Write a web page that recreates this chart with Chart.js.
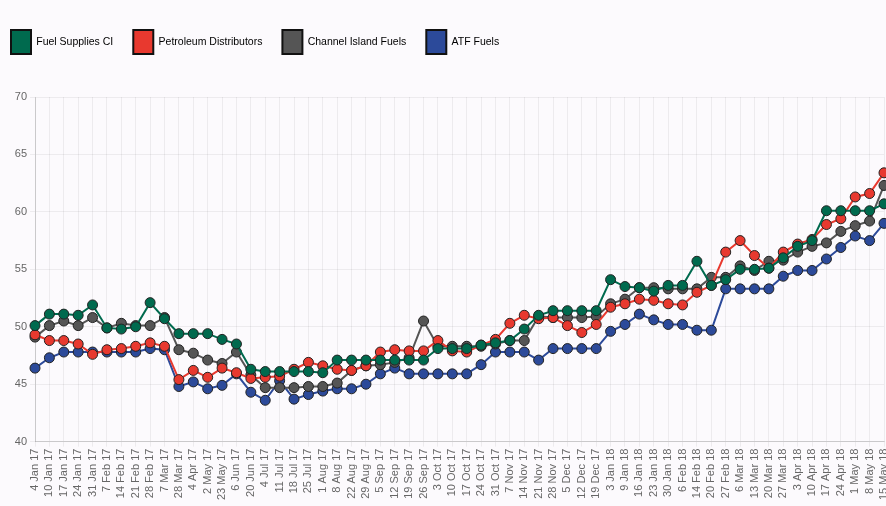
<!DOCTYPE html>
<html>
<head>
<meta charset="utf-8">
<script src="https://cdn.jsdelivr.net/npm/chart.js@4"></script>
<style>
  html, body { margin: 0; padding: 0; background: #fcfafd; overflow: hidden; }
  #wrap { width: 886px; height: 506px; }
</style>
</head>
<body>
<div id="wrap"><canvas id="chart" width="886" height="506"></canvas></div>
<script>
const labels = ['4 Jan 17', '10 Jan 17', '17 Jan 17', '24 Jan 17', '31 Jan 17', '7 Feb 17', '14 Feb 17', '21 Feb 17', '28 Feb 17', '7 Mar 17',
  '28 Mar 17', '4 Apr 17', '2 May 17', '23 May 17', '6 Jun 17', '20 Jun 17', '4 Jul 17', '11 Jul 17', '18 Jul 17', '25 Jul 17',
  '1 Aug 17', '8 Aug 17', '22 Aug 17', '29 Aug 17', '5 Sep 17', '12 Sep 17', '19 Sep 17', '26 Sep 17', '3 Oct 17', '10 Oct 17',
  '17 Oct 17', '24 Oct 17', '31 Oct 17', '7 Nov 17', '14 Nov 17', '21 Nov 17', '28 Nov 17', '5 Dec 17', '12 Dec 17', '19 Dec 17',
  '3 Jan 18', '9 Jan 18', '16 Jan 18', '23 Jan 18', '30 Jan 18', '6 Feb 18', '14 Feb 18', '20 Feb 18', '27 Feb 18', '6 Mar 18',
  '13 Mar 18', '20 Mar 18', '27 Mar 18', '3 Apr 18', '10 Apr 18', '17 Apr 18', '24 Apr 18', '1 May 18', '8 May 18', '15 May 18'];

const fuelSupplies = [50.1, 51.1, 51.1, 51.0, 51.9, 49.9, 49.8, 50.0, 52.1, 50.7, 49.4, 49.4, 49.4, 48.9, 48.5, 46.3, 46.1, 46.1, 46.1, 46.1,
  46.0, 47.1, 47.1, 47.1, 47.1, 47.1, 47.1, 47.1, 48.1, 48.1, 48.1, 48.4, 48.6, 48.8, 49.8, 51.0, 51.4, 51.4, 51.4, 51.4,
  54.1, 53.5, 53.4, 53.1, 53.6, 53.6, 55.7, 53.6, 54.1, 55.0, 55.0, 55.1, 56.0, 57.0, 57.5, 60.1, 60.1, 60.1, 60.1, 60.7];

const petroleum = [49.3, 48.8, 48.8, 48.5, 47.6, 48.0, 48.1, 48.3, 48.6, 48.3, 45.4, 46.2, 45.6, 46.4, 46.0, 45.5, 45.6, 45.7, 46.3, 46.9,
  46.6, 46.3, 46.2, 46.6, 47.8, 48.0, 47.9, 47.9, 48.8, 47.9, 47.8, 48.4, 48.9, 50.3, 51.0, 50.7, 50.8, 50.1, 49.5, 50.2,
  51.7, 52.0, 52.4, 52.3, 52.0, 51.9, 53.0, 53.6, 56.5, 57.5, 56.2, 55.1, 56.5, 57.2, 57.6, 58.9, 59.4, 61.3, 61.6, 63.4];

const channelIsland = [49.1, 50.1, 50.5, 50.1, 50.8, 49.9, 50.3, 50.1, 50.1, 50.8, 48.0, 47.7, 47.1, 46.8, 47.8, 45.8, 44.7, 44.7, 44.7, 44.8,
  44.8, 45.1, 46.2, 46.6, 46.7, 46.9, 47.3, 50.5, 48.3, 48.3, 48.3, 48.3, 48.5, 48.8, 48.8, 50.9, 50.8, 50.8, 50.8, 50.9,
  52.0, 52.4, 53.4, 53.4, 53.3, 53.3, 53.3, 54.3, 54.3, 55.3, 54.9, 55.7, 55.8, 56.5, 57.0, 57.3, 58.3, 58.8, 59.2, 62.3];

const atf = [46.4, 47.3, 47.8, 47.8, 47.8, 47.8, 47.8, 47.8, 48.1, 48.0, 44.8, 45.2, 44.6, 44.9, 45.9, 44.3, 43.6, 45.3, 43.7, 44.1,
  44.4, 44.6, 44.6, 45.0, 45.9, 46.4, 45.9, 45.9, 45.9, 45.9, 45.9, 46.7, 47.8, 47.8, 47.8, 47.1, 48.1, 48.1, 48.1, 48.1,
  49.6, 50.2, 51.1, 50.6, 50.2, 50.2, 49.7, 49.7, 53.3, 53.3, 53.3, 53.3, 54.4, 54.9, 54.9, 55.9, 56.9, 57.9, 57.5, 59.0];

const yTicks = [40, 45, 50, 55, 60, 65, 70];

function series(label, data, color) {
  return {
    label: label,
    data: data,
    borderColor: color,
    backgroundColor: color,
    borderWidth: 2,
    pointRadius: 5,
    pointHoverRadius: 5,
    pointBackgroundColor: color,
    pointBorderColor: '#222',
    pointBorderWidth: 1,
    tension: 0,
    fill: false,
  };
}

// push the plot area down below the legend
const legendSpacer = {
  id: 'legendSpacer',
  beforeInit(chart) {
    const fit = chart.legend.fit;
    chart.legend.fit = function() {
      fit.bind(chart.legend)();
      this.height += 33;
    };
  }
};

Chart.defaults.font.family = '"Liberation Sans", Arial, sans-serif';
Chart.defaults.color = '#666';

new Chart(document.getElementById('chart'), {
  type: 'line',
  data: {
    labels: labels,
    datasets: [
      series('Fuel Supplies CI', fuelSupplies, '#006a4e'),
      series('Petroleum Distributors', petroleum, '#e8392f'),
      series('Channel Island Fuels', channelIsland, '#555555'),
      series('ATF Fuels', atf, '#2c4a9a'),
    ]
  },
  options: {
    responsive: false,
    animation: false,
    layout: { autoPadding: false, padding: { top: 10, left: -9, right: 2, bottom: 4 } },
    plugins: {
      tooltip: { enabled: false },
      legend: {
        position: 'top',
        align: 'start',
        labels: {
          boxWidth: 20,
          boxHeight: 24,
          padding: 20,
          font: { size: 10.5 },
          color: '#555',
          generateLabels(chart) {
            return chart.data.datasets.map((ds, i) => ({
              text: ds.label,
              fillStyle: ds.backgroundColor,
              strokeStyle: '#111',
              lineWidth: 2,
              datasetIndex: i,
              hidden: false,
            }));
          }
        }
      }
    },
    scales: {
      y: {
        min: 40,
        max: 70,
        afterBuildTicks(scale) {
          scale.ticks = yTicks.map(v => ({ value: v }));
        },
        afterFit(scale) {
          scale.width = 44;
        },
        ticks: { font: { size: 11 }, color: '#666' },
        grid: { color: 'rgba(0,0,0,0.06)', tickLength: 5 },
        border: { color: 'rgba(0,0,0,0.15)' }
      },
      x: {
        afterFit(scale) {
          scale.paddingLeft = 0;
          scale.paddingRight = 0;
        },
        ticks: {
          autoSkip: false,
          minRotation: 90,
          maxRotation: 90,
          font: { size: 11 },
          color: '#666',
          padding: 2
        },
        grid: { color: 'rgba(0,0,0,0.06)', tickLength: 5 },
        border: { color: 'rgba(0,0,0,0.15)' }
      }
    }
  },
  plugins: [legendSpacer]
});
</script>
</body>
</html>
